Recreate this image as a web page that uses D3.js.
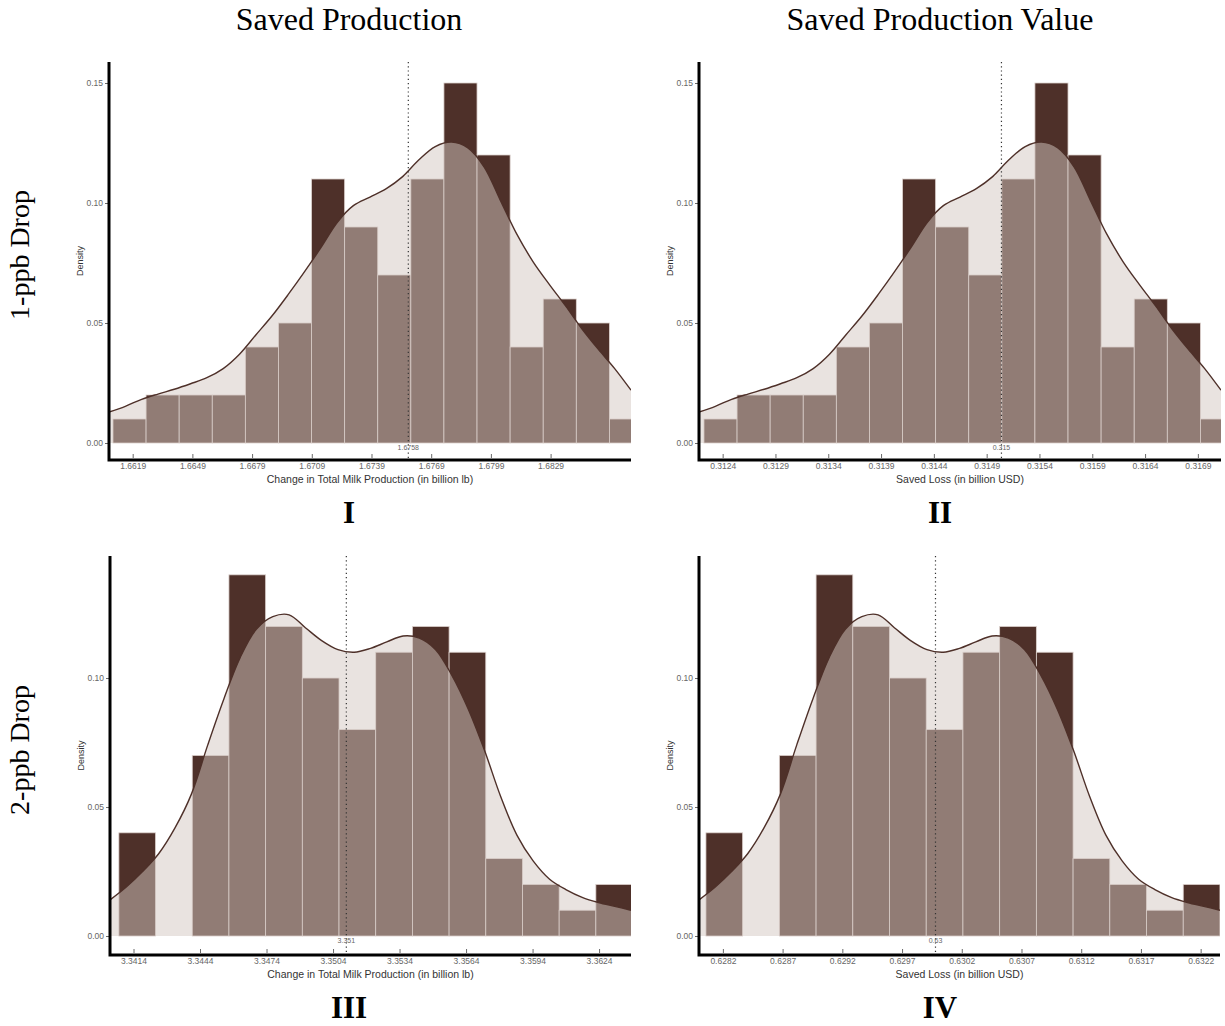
<!DOCTYPE html>
<html>
<head>
<meta charset="utf-8">
<script src="https://cdn.jsdelivr.net/npm/d3@7"></script>
<style>
  body { margin: 0; background: #fff; }
  svg text { font-family: "Liberation Sans", Arial, sans-serif; }
  svg text.serif { font-family: "Liberation Serif", "Times New Roman", serif; }
</style>
</head>
<body>
<script>
// histogram shares per bin (top row: 1-ppb, bottom row: 2-ppb)
const barsRow1 = [0.01, 0.02, 0.02, 0.02, 0.04, 0.05, 0.11, 0.09, 0.07, 0.11, 0.15, 0.12, 0.04, 0.06, 0.05, 0.01];
const barsRow2 = [0.04, 0, 0.07, 0.14, 0.12, 0.10, 0.08, 0.11, 0.12, 0.11, 0.03, 0.02, 0.01, 0.02];

// density curve, evenly spaced across each x range
const curveRow1 = [0.0129, 0.0153, 0.0182, 0.0204, 0.0224, 0.0247, 0.0272, 0.031, 0.037, 0.045, 0.053,
  0.062, 0.0715, 0.0815, 0.092, 0.099, 0.1025, 0.106, 0.111, 0.118, 0.1235, 0.1254, 0.123, 0.115,
  0.101, 0.087, 0.0755, 0.066, 0.057, 0.0475, 0.039, 0.031, 0.022];
const curveRow2 = [0.014, 0.019, 0.025, 0.032, 0.042, 0.055, 0.074, 0.092, 0.108, 0.119, 0.1238,
  0.1245, 0.1195, 0.1145, 0.111, 0.110, 0.1115, 0.114, 0.1163, 0.1155, 0.111, 0.101, 0.088, 0.072,
  0.054, 0.039, 0.029, 0.022, 0.018, 0.015, 0.013, 0.0115, 0.010];

// x ranges, bin start and bin width per panel
const xRangeI = [1.66071, 1.68694], binStartI = 1.66091, binWidthI = 0.001663;
const xRangeII = [0.312176, 0.317119], binStartII = 0.312223, binWidthII = 0.0003134;
const xRangeIII = [3.34034, 3.36384], binStartIII = 3.34074, binWidthIII = 0.001655;
const xRangeIV = [0.62800, 0.632362], binStartIV = 0.628058, binWidthIV = 0.0003074;

// means (dotted line) and their labels
const means = [1.67575, 0.31504, 3.3510, 0.62998];
const meanLabels = ["1.6758", "0.315", "3.351", "0.63"];

// tick values
const xTicksI = [1.6619, 1.6649, 1.6679, 1.6709, 1.6739, 1.6769, 1.6799, 1.6829];
const xTicksII = [0.3124, 0.3129, 0.3134, 0.3139, 0.3144, 0.3149, 0.3154, 0.3159, 0.3164, 0.3169];
const xTicksIII = [3.3414, 3.3444, 3.3474, 3.3504, 3.3534, 3.3564, 3.3594, 3.3624];
const xTicksIV = [0.6282, 0.6287, 0.6292, 0.6297, 0.6302, 0.6307, 0.6312, 0.6317, 0.6322];
const yTicksRow1 = [0, 0.05, 0.10, 0.15];
const yTicksRow2 = [0, 0.05, 0.10];

const colTitles = ["Saved Production", "Saved Production Value"];
const rowTitles = ["1-ppb Drop", "2-ppb Drop"];
const xTitles = ["Change in Total Milk Production (in billion lb)", "Saved Loss (in billion USD)"];
const panelNames = ["I", "II", "III", "IV"];

const width = 1225;
const height = 1026;

const dark = "#4e3029";
const overlay = "rgb(211,199,193)";

const svg = d3.select("body").append("svg")
    .attr("width", width)
    .attr("height", height);

const panels = [
    { left: 109, right: 631, top: 62, bottom: 460, yDom: [-0.00708, 0.15875], xDom: xRangeI,
      binStart: binStartI, binWidth: binWidthI, bars: barsRow1, curve: curveRow1, xTicks: xTicksI, yTicks: yTicksRow1, col: 0 },
    { left: 699, right: 1221, top: 62, bottom: 460, yDom: [-0.00708, 0.15875], xDom: xRangeII,
      binStart: binStartII, binWidth: binWidthII, bars: barsRow1, curve: curveRow1, xTicks: xTicksII, yTicks: yTicksRow1, col: 1 },
    { left: 110, right: 631, top: 556, bottom: 955, yDom: [-0.00736, 0.1473], xDom: xRangeIII,
      binStart: binStartIII, binWidth: binWidthIII, bars: barsRow2, curve: curveRow2, xTicks: xTicksIII, yTicks: yTicksRow2, col: 0 },
    { left: 699, right: 1220, top: 556, bottom: 955, yDom: [-0.00736, 0.1473], xDom: xRangeIV,
      binStart: binStartIV, binWidth: binWidthIV, bars: barsRow2, curve: curveRow2, xTicks: xTicksIV, yTicks: yTicksRow2, col: 1 }
];

panels.forEach((p, k) => {
    const x = d3.scaleLinear().domain(p.xDom).range([p.left, p.right]);
    const y = d3.scaleLinear().domain(p.yDom).range([p.bottom, p.top]);
    const g = svg.append("g");

    g.append("clipPath").attr("id", "clip" + k)
        .append("rect")
        .attr("x", p.left).attr("y", p.top - 5)
        .attr("width", p.right - p.left).attr("height", p.bottom - p.top + 5);

    const plot = g.append("g").attr("clip-path", `url(#clip${k})`);

    // histogram bars
    plot.selectAll("rect.bar")
        .data(p.bars)
        .join("rect")
        .attr("class", "bar")
        .attr("x", (d, i) => x(p.binStart + i * p.binWidth))
        .attr("width", x(p.binStart + p.binWidth) - x(p.binStart))
        .attr("y", d => y(d))
        .attr("height", d => y(0) - y(d))
        .attr("fill", d => d > 0 ? dark : "none")
        .attr("stroke", d => d > 0 ? "#ddd2ce" : "none")
        .attr("stroke-width", 0.8);

    // density overlay
    const n = p.curve.length;
    const pts = p.curve.map((v, i) => [p.xDom[0] + i * (p.xDom[1] - p.xDom[0]) / (n - 1), v]);

    const area = d3.area()
        .x(d => x(d[0]))
        .y0(y(0))
        .y1(d => y(d[1]))
        .curve(d3.curveCatmullRom.alpha(0.5));

    plot.append("path")
        .datum(pts)
        .attr("d", area)
        .attr("fill", overlay)
        .attr("fill-opacity", 0.5);

    plot.append("path")
        .datum(pts)
        .attr("d", area.lineY1())
        .attr("fill", "none")
        .attr("stroke", dark)
        .attr("stroke-width", 1.4);

    // mean line
    g.append("line")
        .attr("x1", x(means[k])).attr("x2", x(means[k]))
        .attr("y1", p.top).attr("y2", p.bottom)
        .attr("stroke", "#333")
        .attr("stroke-width", 1.2)
        .attr("stroke-dasharray", "1.2,3");

    g.append("text")
        .attr("x", x(means[k]))
        .attr("y", y(0) + 7)
        .attr("text-anchor", "middle")
        .attr("font-size", 7)
        .attr("fill", "#666")
        .text(meanLabels[k]);

    // axes
    const xAxis = d3.axisBottom(x)
        .tickValues(p.xTicks)
        .tickFormat(d3.format(".4f"))
        .tickSizeOuter(0)
        .tickSize(4)
        .tickPadding(5);

    const xg = g.append("g")
        .attr("transform", `translate(0,${p.bottom - 6})`)
        .call(xAxis);
    xg.select(".domain").remove();
    xg.selectAll(".tick line").attr("stroke", "#444").attr("stroke-width", 0.8);
    xg.selectAll(".tick text").attr("font-size", 8.5).attr("fill", "#666")
        .style("font-family", "Liberation Sans, Arial, sans-serif");

    const yAxis = d3.axisLeft(y)
        .tickValues(p.yTicks)
        .tickFormat(d3.format(".2f"))
        .tickSizeOuter(0)
        .tickSize(4)
        .tickPadding(2);

    const yg = g.append("g")
        .attr("transform", `translate(${p.left},0)`)
        .call(yAxis);
    yg.select(".domain").remove();
    yg.selectAll(".tick line").attr("stroke", "#444").attr("stroke-width", 0.8);
    yg.selectAll(".tick text").attr("font-size", 8.5).attr("fill", "#666")
        .style("font-family", "Liberation Sans, Arial, sans-serif");

    // thick axis lines
    g.append("path")
        .attr("d", `M${p.left},${p.top}V${p.bottom}H${p.right}`)
        .attr("fill", "none")
        .attr("stroke", "#000")
        .attr("stroke-width", 3);

    // axis titles
    g.append("text")
        .attr("x", (p.left + p.right) / 2)
        .attr("y", p.bottom + 23)
        .attr("text-anchor", "middle")
        .attr("font-size", 10.5)
        .attr("fill", "#333")
        .text(xTitles[p.col]);

    g.append("text")
        .attr("transform", `translate(${p.left - 26},${(p.top + p.bottom) / 2}) rotate(-90)`)
        .attr("text-anchor", "middle")
        .attr("font-size", 9)
        .attr("fill", "#333")
        .text("Density");

    // panel name
    svg.append("text")
        .attr("class", "serif")
        .attr("x", p.col === 0 ? 349 : 940)
        .attr("y", p.bottom + 63)
        .attr("text-anchor", "middle")
        .attr("font-weight", "bold")
        .attr("font-size", 31)
        .text(panelNames[k]);
});

// column titles
svg.selectAll("text.col")
    .data(colTitles)
    .join("text")
    .attr("class", "col serif")
    .attr("x", (d, i) => i === 0 ? 349 : 940)
    .attr("y", 30)
    .attr("text-anchor", "middle")
    .attr("font-size", 32)
    .text(d => d);

// row titles
svg.selectAll("text.row")
    .data(rowTitles)
    .join("text")
    .attr("class", "row serif")
    .attr("transform", (d, i) => `translate(29,${i === 0 ? 255 : 750}) rotate(-90)`)
    .attr("text-anchor", "middle")
    .attr("font-size", 28)
    .text(d => d);
</script>
</body>
</html>
